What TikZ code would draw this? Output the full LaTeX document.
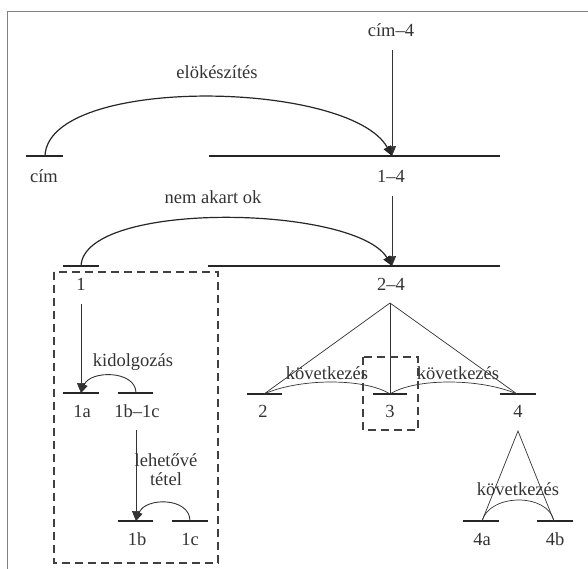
\documentclass[tikz,border=0pt]{standalone}
\usepackage{fontspec}
\setmainfont{Liberation Serif}
\usetikzlibrary{arrows.meta}
\begin{document}
\begin{tikzpicture}[x=1pt,y=-1pt,
  lbl/.style={inner sep=0pt,font=\fontsize{18.5}{19}\selectfont,text=black!80},
  bar/.style={line width=1.8pt,draw=black!85},
  arc/.style={line width=1.2pt,draw=black!85},
  thin/.style={line width=0.7pt,draw=black!80},
  tip/.style={-{Triangle[length=10pt,width=8pt]}},
  dbox/.style={line width=1.3pt,draw=black!75,dash pattern=on 8pt off 5pt},
  frame/.style={line width=1.3pt,draw=black!50}]
\useasboundingbox (0,0) rectangle (588,568);
\draw[frame] (7.5,700) -- (7.5,11.5) -- (700,11.5);
% bars
\coordinate (cimL) at (26,156); \coordinate (cimR) at (63,156);
\coordinate (b14L) at (209,156); \coordinate (b14R) at (500,156);
\coordinate (cimP) at (45,156); \coordinate (p14) at (392,156);
\coordinate (b1L) at (63,266); \coordinate (b1R) at (99,266);
\coordinate (b24L) at (208,266); \coordinate (b24R) at (500,266);
\coordinate (p1) at (81,266); \coordinate (p24) at (392,266);
\coordinate (b1aL) at (63,393); \coordinate (b1aR) at (99,393);
\coordinate (b1bcL) at (118,393); \coordinate (b1bcR) at (153,393);
\coordinate (p1a) at (81,393); \coordinate (p1bc) at (136,393);
\coordinate (b1bL) at (118,521); \coordinate (b1bR) at (153,521);
\coordinate (b1cL) at (172,521); \coordinate (b1cR) at (208,521);
\coordinate (p1b) at (136,521); \coordinate (p1c) at (190,521);
\coordinate (b2L) at (247,394); \coordinate (b2R) at (282,394);
\coordinate (b3L) at (373,394); \coordinate (b3R) at (407,394);
\coordinate (b4L) at (500,394); \coordinate (b4R) at (536,394);
\coordinate (p2) at (264,394); \coordinate (p3) at (390,394); \coordinate (p4) at (517,394);
\coordinate (apex) at (390,303);
\coordinate (apex4) at (518,431);
\coordinate (b4aL) at (463,521); \coordinate (b4aR) at (499,521);
\coordinate (b4bL) at (537,521); \coordinate (b4bR) at (573,521);
\coordinate (p4a) at (482,521); \coordinate (p4b) at (554,521);
\foreach \a in {cim,b14,b1,b24,b1a,b1bc,b1b,b1c,b2,b3,b4,b4a,b4b}
  \draw[bar] (\a L) -- (\a R);
% labels
\node[lbl] (cim4) at (391,30) {cím–4};
\node[lbl] (elok) at (217,72) {elökészítés};
\node[lbl] (cim) at (44,176) {cím};
\node[lbl] (l14) at (391,176) {1–4};
\node[lbl] (nem) at (213,197) {nem akart ok};
\node[lbl] (l24) at (391,284) {2–4};
\node[lbl] (l1) at (81,284) {1};
\node[lbl] (kid) at (133,362) {kidolgozás};
\node[lbl] (l1a) at (82,411) {1a};
\node[lbl] (l1bc) at (137,411) {1b–1c};
\node[lbl,align=center] (leh) at (166,470) {lehetővé\\tétel};
\node[lbl] (l1b) at (137,539) {1b};
\node[lbl] (l1c) at (190,539) {1c};
\node[lbl] (l2) at (263,411) {2};
\node[lbl] (l3) at (390,411) {3};
\node[lbl] (l4) at (518,411) {4};
\node[lbl] (kov1) at (327,373) {következés};
\node[lbl] (kov2) at (458,373) {következés};
\node[lbl] (kov3) at (518,489) {következés};
\node[lbl] (l4a) at (482,539) {4a};
\node[lbl] (l4b) at (555,539) {4b};
% arrows
\coordinate (a1) at (392,50);
\coordinate (a2) at (392,196);
\coordinate (a3) at (81,304);
\coordinate (a4) at (136,430);
\draw[thin,tip] (a1) -- (p14);
\draw[thin,tip] (a2) -- (p24);
\draw[thin,tip] (a3) -- (p1a);
\draw[thin,tip] (a4) -- (p1b);
\draw[arc,tip] (cimP) .. controls (48,75) and (350,80) .. (p14);
\draw[arc,tip] (p1) .. controls (84,200) and (355,205) .. (p24);
\draw[thin,line width=0.9pt,-{Triangle[length=9pt,width=7pt]}] (p1bc) .. controls (136,370) and (90,370) .. (p1a);
\draw[thin,line width=0.9pt,-{Triangle[length=9pt,width=7pt]}] (p1c) .. controls (190,497) and (145,497) .. (p1b);
% triangles
\draw[thin] (p2) -- (apex) -- (p4);
\draw[thin] (apex) -- (p3);
\draw[thin] (p4a) -- (apex4) -- (p4b);
\draw[thin] (p2) .. controls (300,378) and (365,378) .. (p3);
\draw[thin] (p3) .. controls (415,378) and (480,378) .. (p4);
\draw[thin] (p4a) .. controls (490,493) and (548,493) .. (p4b);
% dashed boxes
\draw[dbox] (54,272) rectangle (218,563);
\draw[dbox] (363,357) rectangle (418,430);
\end{tikzpicture}
\end{document}
